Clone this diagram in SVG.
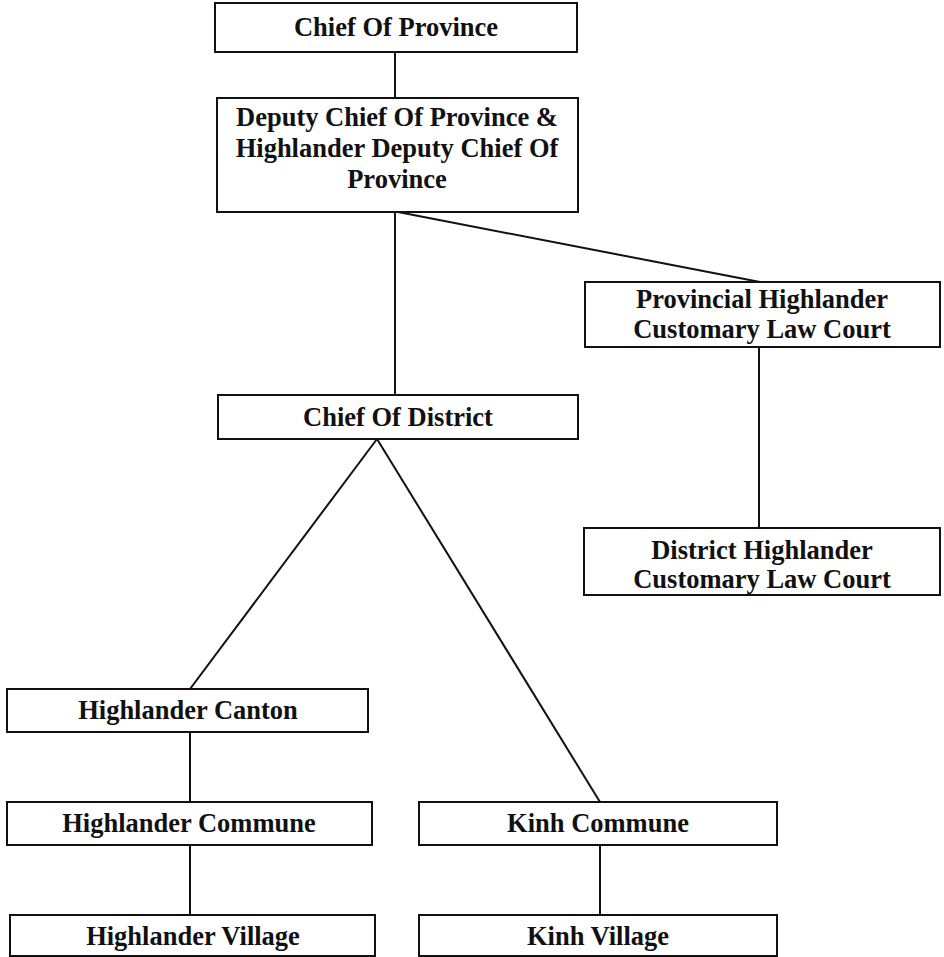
<svg xmlns="http://www.w3.org/2000/svg" width="944" height="957" viewBox="0 0 944 957">
<style>
.box{fill:#fff;stroke:#111;stroke-width:2}
.t{font-family:"Liberation Serif","Times New Roman",serif;font-weight:bold;font-size:26.5px;fill:#111;text-anchor:middle}
.c{stroke:#111;stroke-width:2;fill:none}
</style>
<rect width="944" height="957" fill="#fff"/>
<g id="connectors">
<line class="c" x1="395" y1="52" x2="395" y2="98"/>
<line class="c" x1="395" y1="212" x2="395" y2="395"/>
<line class="c" x1="398" y1="212" x2="760" y2="282"/>
<line class="c" x1="759" y1="347" x2="759" y2="528"/>
<line class="c" x1="377" y1="439" x2="190" y2="689"/>
<line class="c" x1="377" y1="439" x2="600" y2="802"/>
<line class="c" x1="190" y1="732" x2="190" y2="802"/>
<line class="c" x1="190" y1="845" x2="190" y2="915"/>
<line class="c" x1="600" y1="845" x2="600" y2="915"/>
</g>
<g id="chief-province">
<rect class="box" x="215" y="3" width="362" height="49"/>
<text class="t" x="396" y="36">Chief Of Province</text>
</g>
<g id="deputy-chief">
<rect class="box" x="217" y="98" width="361" height="114"/>
<text class="t" x="397" y="126">Deputy Chief Of Province &amp;</text>
<text class="t" x="397" y="157">Highlander Deputy Chief Of</text>
<text class="t" x="397" y="188">Province</text>
</g>
<g id="provincial-court">
<rect class="box" x="585" y="282" width="355" height="65"/>
<text class="t" x="762" y="308">Provincial Highlander</text>
<text class="t" x="762" y="338">Customary Law Court</text>
</g>
<g id="chief-district">
<rect class="box" x="218" y="395" width="360" height="44"/>
<text class="t" x="398" y="426">Chief Of District</text>
</g>
<g id="district-court">
<rect class="box" x="584" y="528" width="356" height="67"/>
<text class="t" x="762" y="559">District Highlander</text>
<text class="t" x="762" y="588">Customary Law Court</text>
</g>
<g id="highlander-canton">
<rect class="box" x="7" y="689" width="361" height="43"/>
<text class="t" x="188" y="719">Highlander Canton</text>
</g>
<g id="highlander-commune">
<rect class="box" x="7" y="802" width="365" height="43"/>
<text class="t" x="189" y="832">Highlander Commune</text>
</g>
<g id="kinh-commune">
<rect class="box" x="419" y="802" width="358" height="43"/>
<text class="t" x="598" y="832">Kinh Commune</text>
</g>
<g id="highlander-village">
<rect class="box" x="10" y="915" width="365" height="41"/>
<text class="t" x="193" y="945">Highlander Village</text>
</g>
<g id="kinh-village">
<rect class="box" x="419" y="915" width="358" height="41"/>
<text class="t" x="598" y="945">Kinh Village</text>
</g>
</svg>
